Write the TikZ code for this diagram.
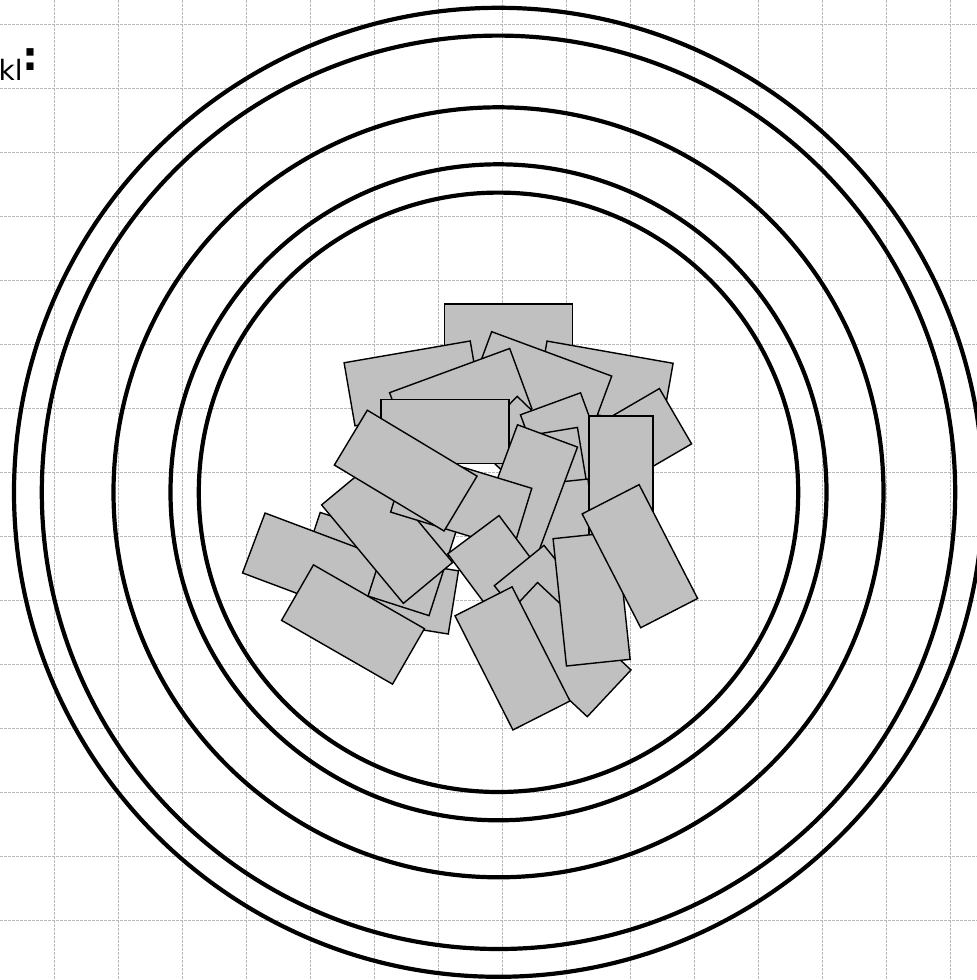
\documentclass[tikz,border=0pt]{standalone}
\usepackage{fontspec}
\setmainfont{DejaVu Sans}
\newcommand\rbx[3]{\draw[rbox,shift={(#1,#2)},rotate={-1*(#3)}] (-64,-32) -- (64,-32) -- (64,32) -- (-64,32) -- cycle;}
\begin{document}
\begin{tikzpicture}[x=1pt,y=-1pt,
  gridline/.style={draw=gray!55, line width=0.8pt, dash pattern=on 2.5pt off 1.5pt},
  ring/.style={draw=black, line width=4.2pt},
  rbox/.style={draw=black, fill={rgb,255:red,192;green,192;blue,192}, line width=1.4pt, line join=miter}]
\useasboundingbox (0,0) rectangle (977,980);
\fill[white] (0,0) rectangle (977,980);
\foreach \gx in {54,118,...,950} \draw[gridline] (\gx,0) -- (\gx,980);
\foreach \gy in {24,88,...,920} \draw[gridline] (0,\gy) -- (977,\gy);
\node[anchor=base west, inner sep=0, font=\fontsize{28}{31}\selectfont] (kl) at (-1.5,80) {kl\raisebox{9.3pt}{\bfseries\fontsize{40}{42}\selectfont :}};
\coordinate (c) at (498.5,492.3);
\foreach \r in {299.7,328,385,456.7,484.5} \draw[ring] (c) circle[radius=\r];
% rectangles, bottom to top
\rbx{508.5}{336}{0}
\rbx{412.6}{383.4}{-9.8}
\rbx{604.5}{383.7}{10}
\rbx{540.6}{383.9}{20.3}
\rbx{460.7}{400.6}{-20.2}
\rbx{541}{463.8}{44}
\rbx{444.8}{431.7}{0}
\rbx{371}{562.8}{18.2}
\rbx{390.2}{592.2}{9.2}
\rbx{313.7}{565.5}{20.6}
\rbx{353}{624.5}{29.9}
\rbx{418.1}{544.9}{107.8}
\rbx{387.1}{533.7}{50.3}
\rbx{620.2}{448.4}{-30.2}
\rbx{572.5}{463.9}{69.9}
\rbx{556.4}{495.8}{80.5}
\rbx{562.9}{546}{84}
\rbx{525.2}{495.9}{110.4}
\rbx{461.2}{500.2}{17}
\rbx{405.7}{470.6}{31}
\rbx{620.9}{480}{90}
\rbx{511.6}{586}{53.3}
\rbx{559.5}{615.2}{50.9}
\rbx{562.4}{649.6}{43.1}
\rbx{591.6}{599}{84}
\rbx{639.9}{556.2}{62.8}
\rbx{512.5}{658.4}{63.1}
\end{tikzpicture}
\end{document}
